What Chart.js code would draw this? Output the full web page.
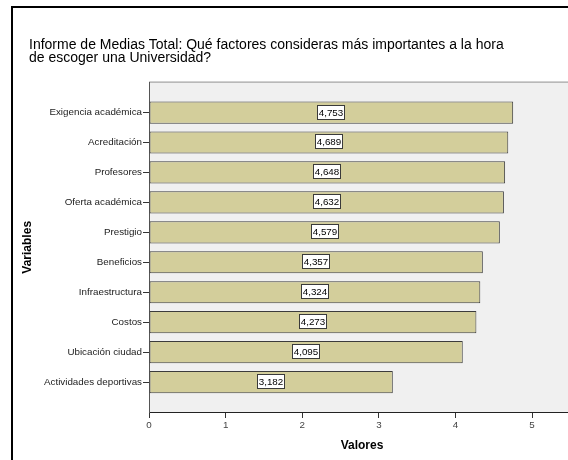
<!DOCTYPE html>
<html>
<head>
<meta charset="utf-8">
<script src="https://cdn.jsdelivr.net/npm/chart.js@4/dist/chart.umd.min.js"></script>
<style>
  html, body { margin: 0; padding: 0; background: #ffffff; }
  #wrap { width: 568px; height: 460px; overflow: hidden; position: relative; }
  #c { display: block; }
</style>
</head>
<body>
<div id="wrap"><canvas id="c" width="576" height="460"></canvas></div>
<script>
const categories = [
  "Exigencia académica",
  "Acreditación",
  "Profesores",
  "Oferta académica",
  "Prestigio",
  "Beneficios",
  "Infraestructura",
  "Costos",
  "Ubicación ciudad",
  "Actividades deportivas"
];
const values = [4.753, 4.689, 4.648, 4.632, 4.579, 4.357, 4.324, 4.273, 4.095, 3.182];
const xTicks = [0, 1, 2, 3, 4, 5];
const titleLines = [
  "Informe de Medias Total: Qué factores consideras más importantes a la hora",
  "de escoger una Universidad?"
];
const xTitle = "Valores";
const yTitle = "Variables";

const FONT = "'Liberation Sans', Arial, sans-serif";

const points = values.map((v, i) => ({ x: v, y: i }));

const framePlugin = {
  id: 'frame',
  beforeDraw(chart) {
    const ctx = chart.ctx;
    const a = chart.chartArea;
    ctx.save();
    ctx.fillStyle = '#ffffff';
    ctx.fillRect(0, 0, chart.width, chart.height);
    ctx.fillStyle = '#000000';
    ctx.fillRect(11, 6, 2, chart.height);
    ctx.fillRect(11, 6, chart.width, 2);
    ctx.fillStyle = '#f0f0f0';
    ctx.fillRect(a.left, a.top, a.right - a.left, a.bottom - a.top);
    ctx.strokeStyle = '#8c8c8c';
    ctx.lineWidth = 1;
    ctx.beginPath();
    ctx.moveTo(a.left, a.top - 0.5);
    ctx.lineTo(a.right, a.top - 0.5);
    ctx.stroke();
    ctx.restore();
  }
};

const labelPlugin = {
  id: 'barLabels',
  afterDatasetsDraw(chart) {
    const ctx = chart.ctx;
    const meta = chart.getDatasetMeta(0);
    ctx.save();
    ctx.font = "9.8px " + FONT;
    ctx.textAlign = 'center';
    ctx.textBaseline = 'middle';
    meta.data.forEach((bar, i) => {
      const txt = values[i].toFixed(3).replace('.', ',');
      const cx = Math.round((bar.base + bar.x) / 2);
      const cy = Math.round(bar.y);
      const w = 28, h = 15;
      const x0 = cx - w / 2, y0 = cy - h / 2 - 0.5;
      ctx.fillStyle = '#ffffff';
      ctx.fillRect(x0, y0, w, h);
      ctx.strokeStyle = '#3a3a3a';
      ctx.lineWidth = 1;
      ctx.strokeRect(x0 + 0.5, y0 + 0.5, w - 1, h - 1);
      ctx.fillStyle = '#000000';
      ctx.fillText(txt, cx, cy);
    });
    ctx.restore();
  }
};

new Chart(document.getElementById('c'), {
  type: 'bar',
  data: {
    datasets: [{
      data: points,
      backgroundColor: '#d3ce9b',
      borderColor: '#3c3c3c',
      borderWidth: 1,
      borderSkipped: false,
      categoryPercentage: 1,
      barPercentage: 0.74
    }]
  },
  options: {
    indexAxis: 'y',
    responsive: false,
    animation: false,
    devicePixelRatio: 1,
    layout: { padding: { left: 29, right: 1, top: 0, bottom: 0 } },
    plugins: {
      legend: { display: false },
      tooltip: { enabled: false },
      title: {
        display: true,
        text: titleLines,
        align: 'start',
        color: '#000000',
        font: { family: FONT, size: 14, weight: 'normal', lineHeight: 0.95 },
        padding: { top: 38, bottom: 18 }
      }
    },
    scales: {
      x: {
        type: 'linear',
        min: 0,
        max: 5.56,
        afterBuildTicks(scale) {
          scale.ticks = xTicks.map(v => ({ value: v }));
        },
        afterFit(scale) { scale.height = 48; },
        ticks: {
          padding: 1,
          color: '#444444',
          font: { family: FONT, size: 9.8 },
          callback: (v) => String(v)
        },
        grid: {
          drawOnChartArea: false,
          drawTicks: true,
          tickLength: 6,
          color: '#333333'
        },
        border: { display: true, color: '#222222', width: 1 },
        title: {
          display: true,
          text: xTitle,
          color: '#000000',
          font: { family: FONT, size: 12, weight: 'bold' },
          padding: { top: 0, bottom: 7 }
        }
      },
      y: {
        type: 'linear',
        reverse: true,
        offset: false,
        min: -1,
        max: categories.length,
        afterBuildTicks(scale) {
          scale.ticks = categories.map((c, i) => ({ value: i }));
        },
        afterFit(scale) { scale.width = 120; },
        ticks: {
          padding: 1,
          color: '#222222',
          font: { family: FONT, size: 9.8 },
          callback: (v) => categories[v] !== undefined ? categories[v] : ''
        },
        grid: {
          offset: false,
          drawOnChartArea: false,
          drawTicks: true,
          tickLength: 6,
          color: '#333333'
        },
        border: { display: true, color: '#555555', width: 1 },
        title: {
          display: true,
          text: yTitle,
          color: '#000000',
          font: { family: FONT, size: 12, weight: 'bold' },
          padding: { top: -9, bottom: 0 }
        }
      }
    }
  },
  plugins: [framePlugin, labelPlugin]
});
</script>
</body>
</html>
